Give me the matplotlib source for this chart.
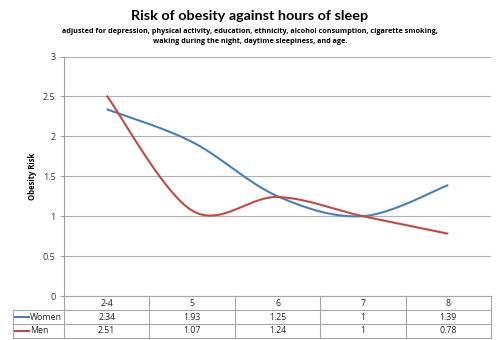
import matplotlib.pyplot as plt
import numpy as np
from matplotlib.lines import Line2D

# === Data ===
hours = ["2-4", "5", "6", "7", "8"]
women = [2.34, 1.93, 1.25, 1, 1.39]
men = [2.51, 1.07, 1.24, 1, 0.78]
series_names = ["Women", "Men"]
series_colors = ["#4A7EBB", "#BE4B48"]

title = "Risk of obesity against hours of sleep"
subtitle = ("adjusted for depression, physical activity, education, ethnicity, alcohol consumption, cigarette smoking,\n"
            "waking during the night, daytime sleepiness, and age.")

plt.rcParams['font.family'] = ['Open Sans', 'DejaVu Sans']


def smooth(y, n=40):
    """Excel-style smoothed line: cubic Bezier segments with Catmull-Rom controls."""
    y = np.asarray(y, dtype=float)
    x = np.arange(len(y), dtype=float)
    xs, ys = [], []
    t = np.linspace(0, 1, n)
    for i in range(len(y) - 1):
        p0 = (x[i], y[i])
        p3 = (x[i + 1], y[i + 1])
        prv = (x[max(i - 1, 0)], y[max(i - 1, 0)])
        nxt = (x[min(i + 2, len(y) - 1)], y[min(i + 2, len(y) - 1)])
        p1 = (p0[0] + (p3[0] - prv[0]) / 6, p0[1] + (p3[1] - prv[1]) / 6)
        p2 = (p3[0] - (nxt[0] - p0[0]) / 6, p3[1] - (nxt[1] - p0[1]) / 6)
        for k in range(2):
            c = [p0[k], p1[k], p2[k], p3[k]]
            v = ((1 - t) ** 3 * c[0] + 3 * (1 - t) ** 2 * t * c[1]
                 + 3 * (1 - t) * t ** 2 * c[2] + t ** 3 * c[3])
            (xs if k == 0 else ys).append(v)
    return np.concatenate(xs), np.concatenate(ys)


W, H = 500, 340
fig = plt.figure(figsize=(5, 3.4), dpi=100)

# plot area in pixel units
left, right, top, bottom = 64, 491, 56.5, 296
ax = fig.add_axes([left / W, 1 - bottom / H, (right - left) / W, (bottom - top) / H])

for vals, col in zip([women, men], series_colors):
    sx, sy = smooth(vals)
    ax.plot(sx, sy, color=col, lw=1.5, solid_capstyle='butt')

ax.set_xlim(-0.5, len(hours) - 0.5)
ax.set_ylim(0, 3)
ax.set_yticks(np.arange(0, 3.01, 0.5))
ax.set_yticklabels(["0", "0.5", "1", "1.5", "2", "2.5", "3"])
ax.set_xticks([])
ax.tick_params(axis='y', length=3, width=0.8, color="#a0a0a0", labelsize=6.5,
               labelcolor="#333333", pad=3)
ax.grid(axis='y', color="#b0b0b0", lw=0.8)
ax.set_axisbelow(True)
for s in ["top", "right", "bottom"]:
    ax.spines[s].set_visible(False)
ax.spines["left"].set_color("#a0a0a0")
ax.spines["left"].set_linewidth(0.8)
ax.set_ylabel("Obesity Risk", fontsize=5.5, fontweight='bold')
ax.yaxis.set_label_coords((37 - left) / (right - left), 0.5)

# === Data table below the plot ===
tx0, tlab = 13, 64
rows_y = [296, 310, 324, 337.5]
tab = fig.add_axes([0, 0, 1, 1])
tab.set_xlim(0, W)
tab.set_ylim(H, 0)
tab.axis('off')
grid_col = "#a6a6a6"
col_w = (right - left) / len(hours)
col_edges = [left + i * col_w for i in range(len(hours) + 1)]

# horizontal rules
tab.plot([tlab, right], [rows_y[0], rows_y[0]], color=grid_col, lw=0.8)
for yv in rows_y[1:]:
    tab.plot([tx0, right], [yv, yv], color=grid_col, lw=0.8)
# vertical rules
for xv in col_edges:
    tab.plot([xv, xv], [rows_y[0], rows_y[-1]], color=grid_col, lw=0.8)
tab.plot([tx0, tx0], [rows_y[1], rows_y[-1]], color=grid_col, lw=0.8)

txt_kw = dict(fontsize=6.3, color="#222222", ha='center', va='center')
for i, h in enumerate(hours):
    cx = (col_edges[i] + col_edges[i + 1]) / 2
    tab.text(cx, (rows_y[0] + rows_y[1]) / 2, h, **txt_kw)
    for r, vals in enumerate([women, men]):
        tab.text(cx, (rows_y[r + 1] + rows_y[r + 2]) / 2, f"{vals[i]:g}", **txt_kw)

for r, (name, col) in enumerate(zip(series_names, series_colors)):
    yc = (rows_y[r + 1] + rows_y[r + 2]) / 2
    tab.add_line(Line2D([tx0 + 2, tx0 + 16], [yc, yc], color=col, lw=1.5))
    tab.text(tx0 + 17, yc, name, fontsize=6.3, color="#222222", ha='left', va='center')

# === Titles ===
fig.text(0.5, 1 - 16 / H, title, ha='center', va='center', fontsize=10.4,
         fontweight='bold', family=['Lato', 'DejaVu Sans'])
fig.text(0.5, 1 - 36.5 / H, subtitle, ha='center', va='center', fontsize=5.2,
         fontweight='bold', linespacing=1.5)

fig.savefig("out.png", dpi=100, facecolor="white")
